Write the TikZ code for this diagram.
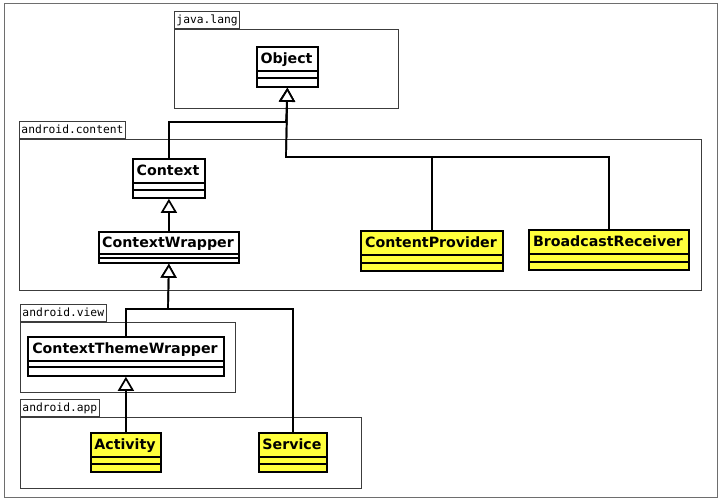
\documentclass[tikz,border=0pt]{standalone}
\usepackage{fontspec}
\usetikzlibrary{arrows.meta,calc}
\newfontfamily\clsfont{DejaVu Sans}
\newfontfamily\pkgfont{DejaVu Sans Mono}
\definecolor{clsyellow}{RGB}{255,255,60}
\definecolor{pkgline}{RGB}{60,60,60}
\definecolor{frameline}{RGB}{110,110,110}
\tikzset{
  clsbox/.style={draw=black, line width=1.8pt, inner sep=0pt},
  clsname/.style={font=\clsfont\bfseries\fontsize{14.2}{16}\selectfont, inner sep=0pt, text height=10.3pt, text depth=0pt},
  clsline/.style={draw=black, line width=1.8pt},
  pkgbox/.style={draw=pkgline, line width=0.9pt, inner sep=0pt},
  pkgtab/.style={draw=pkgline, line width=0.9pt, font=\pkgfont\fontsize{11.3}{13}\selectfont, inner xsep=2pt, inner ysep=0pt, minimum height=17pt, text height=8.6pt, text depth=2pt, fill=white},
  gen/.style={draw=black, line width=1.7pt, -{Triangle[open, fill=white, width=16pt, length=14pt, line width=1.7pt]}},
}
% #1 node name, #2 text, #3 x1, #4 y1, #5 x2, #6 y2, #7 name bottom, #8 second line, #9 fill
\newcommand\umlclass[9]{%
  \node[clsbox, fill=#9, anchor=north west, minimum width={(#5-#3)*1pt}, minimum height={(#6-#4)*1pt}] (#1) at (#3,#4) {};
  \node[clsname] (#1-name) at ({(#3+#5)/2},{(#4+#7)/2}) {#2};
  \draw[clsline] (#3,#7) -- (#5,#7);
  \draw[clsline] (#3,#8) -- (#5,#8);
}
\begin{document}
\begin{tikzpicture}[x=1pt, y=-1pt]
\useasboundingbox[fill=white] (0,0) rectangle (719,501);
\draw[frameline, line width=0.9pt] (4,3) rectangle (717,497);

% packages
\node[pkgbox, anchor=north west, minimum width=224pt, minimum height=79pt] (pjava) at (174,29) {};
\node[pkgtab, anchor=south west] (pjava-tab) at (pjava.north west) {java.lang};
\node[pkgbox, anchor=north west, minimum width=682pt, minimum height=151pt] (pcontent) at (19,139) {};
\node[pkgtab, anchor=south west] (pcontent-tab) at (pcontent.north west) {android.content};
\node[pkgbox, anchor=north west, minimum width=215pt, minimum height=70pt] (pview) at (20,322) {};
\node[pkgtab, anchor=south west] (pview-tab) at (pview.north west) {android.view};
\node[pkgbox, anchor=north west, minimum width=341pt, minimum height=71pt] (papp) at (20,417) {};
\node[pkgtab, anchor=south west] (papp-tab) at (papp.north west) {android.app};

% classes
\umlclass{obj}{Object}{256}{46}{317}{86}{71}{78}{white}
\umlclass{ctx}{Context}{132}{158}{204}{197}{183}{190}{white}
\umlclass{cw}{ContextWrapper}{98}{231}{238}{262}{254}{258}{white}
\umlclass{cp}{ContentProvider}{360}{230}{502}{270}{255}{263}{clsyellow}
\umlclass{br}{BroadcastReceiver}{528}{229}{688}{269}{254}{262}{clsyellow}
\umlclass{ctw}{ContextThemeWrapper}{27}{336}{223}{375}{361}{367}{white}
\umlclass{act}{Activity}{90}{432}{160}{471}{457}{464}{clsyellow}
\umlclass{svc}{Service}{258}{432}{326}{471}{457}{464}{clsyellow}

% junctions
\coordinate (j1) at (286,122);
\coordinate (j2) at (286,157);
\coordinate (j3) at (168,309);

% generalizations
\draw[gen] (ctx.north) |- (j1) -- (obj.south);
\draw[gen] (cp.north) |- (j2) -- (obj.south);
\draw[gen] (br.north) |- (j2) -- (obj.south);
\draw[gen] (cw.north) -- (ctx.south);
\draw[gen] (ctw.north) |- (j3) -- (cw.south);
\draw[gen] (svc.north) |- (j3) -- (cw.south);
\draw[gen] (act.north) -- (ctw.south);
\end{tikzpicture}
\end{document}
